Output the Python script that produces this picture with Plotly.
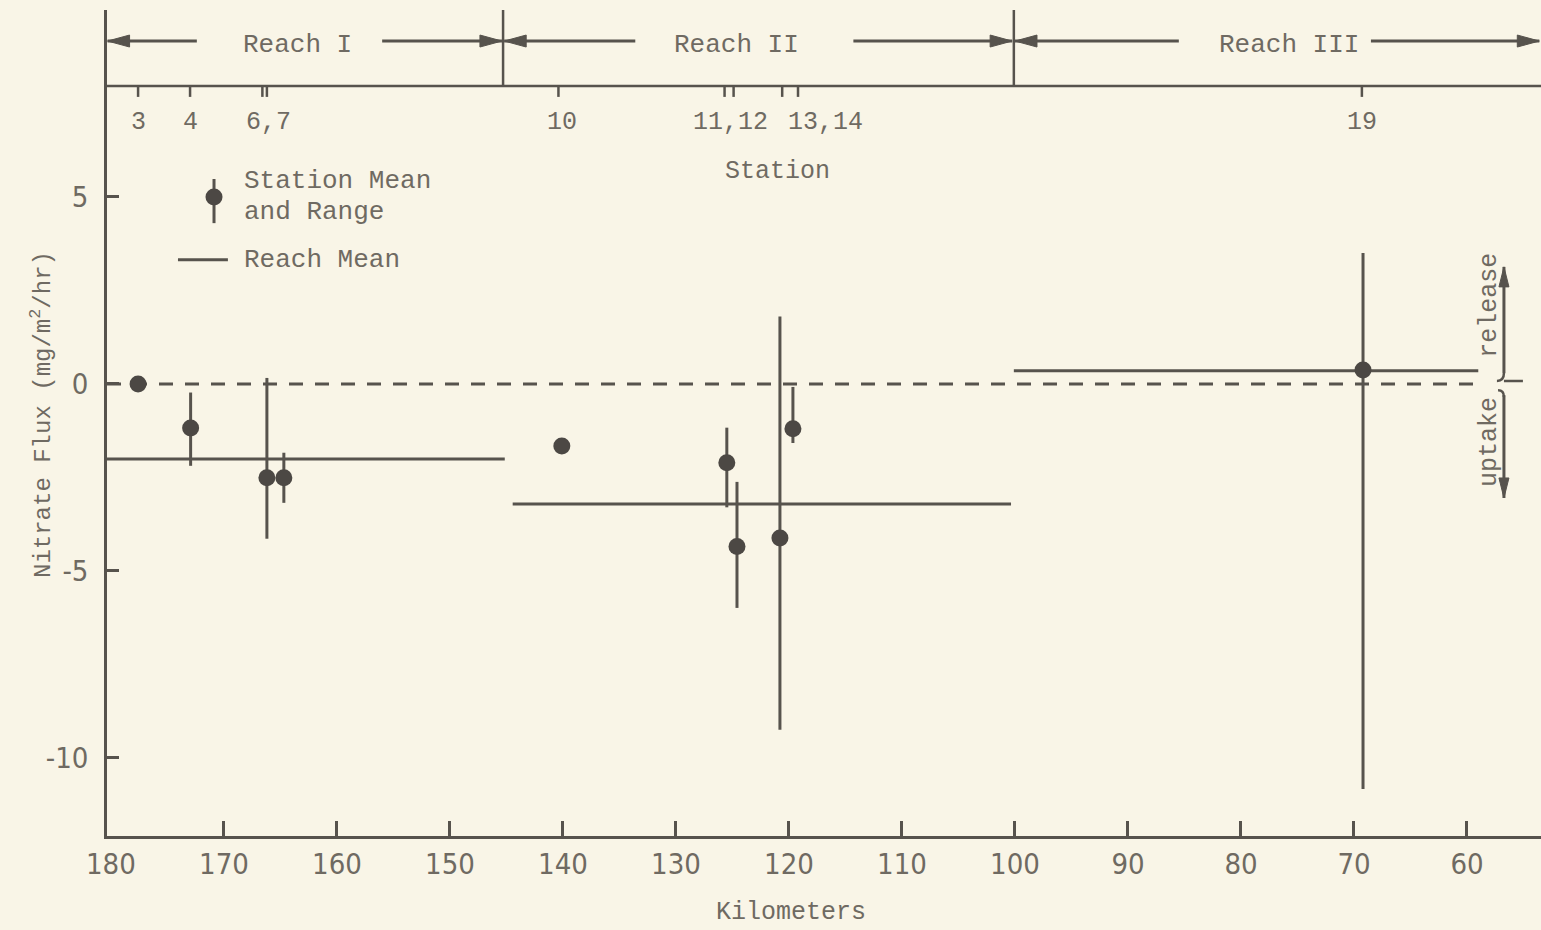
import plotly.graph_objects as go

# ---------------- data ----------------
stations = ["3", "4", "6", "7", "10", "11", "12", "13", "14", "19"]
station_km = [177.6, 172.95, 166.2, 164.7, 140.1, 125.5, 124.6, 120.8, 119.65, 69.2]
flux_mean = [0.0, -1.18, -2.51, -2.51, -1.66, -2.11, -4.35, -4.12, -1.20, 0.37]
flux_max = [0.0, -0.23, 0.16, -1.84, -1.66, -1.17, -2.62, 1.80, -0.08, 3.50]
flux_min = [0.0, -2.19, -4.14, -3.18, -1.66, -3.30, -5.99, -9.25, -1.58, -10.83]

reaches = ["Reach I", "Reach II", "Reach III"]
reach_start_km = [180.35, 144.45, 100.1]
reach_end_km = [145.15, 100.35, 59.0]
reach_mean = [-2.01, -3.21, 0.35]
reach_boundary_km = [145.3, 100.1]
reach_label_km = [163.45, 124.6, 75.75]

tick_station_km = [177.6, 173.0, 166.6, 166.2, 140.4, 125.7, 124.9, 120.6, 119.2, 69.3]
station_label_text = ["3", "4", "6,7", "10", "11,12", "13,14", "19"]
station_label_km = [177.6, 173.0, 166.1, 140.1, 125.2, 116.8, 69.3]

km_ticks = [170, 160, 150, 140, 130, 120, 110, 100, 90, 80, 70, 60]
km_first_label = 180
flux_ticks = [5, 0, -5, -10]
flux_tick_text = ["5", "0", "-5", "-10"]

# ---------------- style ----------------
BG = "#f9f5e7"
INK = "#57534d"
DOT = "#4c4844"
TXT = "#6f6a62"
MONO = "Liberation Mono, Courier New, monospace"
SANS = "Liberation Sans Narrow, DejaVu Sans Condensed, Arial Narrow, sans-serif"

X_RANGE = [180.35, 53.45]
Y_RANGE = [-12.09, 10.0]
KPX = 1 / 11.3   # km per pixel
YPX = 1 / 37.4   # flux units per pixel
TOP_AXIS_Y = 7.97
BAND_TOP = 10.0
ARROW_Y = 9.17

fig = go.Figure()

# dashed zero reference line
fig.add_trace(go.Scatter(
    x=[X_RANGE[0], 59.0], y=[0.0, 0.0], mode="lines",
    line=dict(color=INK, width=3, dash="14px,12px"),
    hoverinfo="skip", showlegend=False))

# reach means
for name, x0, x1, m in zip(reaches, reach_start_km, reach_end_km, reach_mean):
    fig.add_trace(go.Scatter(
        x=[x0, x1], y=[m, m], mode="lines", name=name + " mean",
        line=dict(color=INK, width=3), showlegend=False))

# station means and ranges
err_plus = [mx - mn for mx, mn in zip(flux_max, flux_mean)]
err_minus = [mn - lo for mn, lo in zip(flux_mean, flux_min)]
fig.add_trace(go.Scatter(
    x=station_km, y=flux_mean, mode="markers", text=stations,
    marker=dict(size=17, color=DOT, line=dict(width=0)),
    error_y=dict(type="data", symmetric=False, array=err_plus,
                 arrayminus=err_minus, thickness=3, width=0, color=INK),
    showlegend=False, cliponaxis=False))

# ---------------- manual legend ----------------
fig.add_trace(go.Scatter(
    x=[170.88], y=[5.0], mode="markers",
    marker=dict(size=17, color=DOT),
    error_y=dict(type="data", symmetric=False, array=[0.48], arrayminus=[0.70],
                 thickness=3, width=0, color=INK),
    hoverinfo="skip", showlegend=False))
fig.add_trace(go.Scatter(
    x=[174.07, 169.65], y=[3.32, 3.32], mode="lines",
    line=dict(color=INK, width=3), hoverinfo="skip", showlegend=False))

annotations = []
shapes = []


def text(x, y, s, size=26, xanchor="center", angle=0, xref="x", yref="y",
         font=MONO):
    annotations.append(dict(x=x, y=y, xref=xref, yref=yref, text=s, showarrow=False,
                            xanchor=xanchor, yanchor="middle", textangle=angle,
                            font=dict(family=font, size=size, color=TXT)))


text(168.41, 5.43, "Station Mean", xanchor="left")
text(168.41, 4.60, "and Range", xanchor="left")
text(168.41, 3.32, "Reach Mean", xanchor="left")

# ---------------- top station axis & reach band ----------------
shapes.append(dict(type="line", xref="x", yref="y", x0=X_RANGE[0], x1=X_RANGE[1],
                   y0=TOP_AXIS_Y, y1=TOP_AXIS_Y, line=dict(color=INK, width=2.5)))
for b in reach_boundary_km:
    shapes.append(dict(type="line", xref="x", yref="y", x0=b, x1=b,
                       y0=TOP_AXIS_Y, y1=BAND_TOP, line=dict(color=INK, width=2.5)))
for k in tick_station_km:
    shapes.append(dict(type="line", xref="x", yref="y", x0=k, x1=k,
                       y0=TOP_AXIS_Y, y1=TOP_AXIS_Y - 11 * YPX,
                       line=dict(color=INK, width=2.5)))
for s, k in zip(station_label_text, station_label_km):
    text(k, 6.98, s, size=25)
text(121.0, 5.67, "Station", size=25)

for name, k in zip(reaches, reach_label_km):
    text(k, 9.06, name, size=26)


def h_arrow(tail, tip, y):
    shapes.append(dict(type="line", xref="x", yref="y", x0=tail, x1=tip, y0=y, y1=y,
                       line=dict(color=INK, width=3)))
    d = -1 if tip > tail else 1
    base = tip + d * 22 * KPX
    hw = 6 * YPX
    shapes.append(dict(type="path", xref="x", yref="y",
                       path=f"M {tip},{y} L {base},{y + hw} L {base},{y - hw} Z",
                       fillcolor=INK, line=dict(color=INK, width=1)))


def v_arrow(x, tail, tip):
    shapes.append(dict(type="line", xref="x", yref="y", x0=x, x1=x, y0=tail, y1=tip,
                       line=dict(color=INK, width=3)))
    d = -1 if tip > tail else 1
    base = tip + d * 20 * YPX
    hw = 5 * KPX
    shapes.append(dict(type="path", xref="x", yref="y",
                       path=f"M {x},{tip} L {x + hw},{base} L {x - hw},{base} Z",
                       fillcolor=INK, line=dict(color=INK, width=1)))


# Reach I
h_arrow(172.4, 180.3, ARROW_Y)
h_arrow(156.0, 145.4, ARROW_Y)
# Reach II
h_arrow(133.6, 145.2, ARROW_Y)
h_arrow(114.3, 100.25, ARROW_Y)
# Reach III
h_arrow(85.5, 100.0, ARROW_Y)
h_arrow(68.5, 53.6, ARROW_Y)

# ---------------- release / uptake ----------------
v_arrow(56.73, 0.29, 3.13)
v_arrow(56.73, -0.30, -3.05)
shapes.append(dict(type="path", xref="x", yref="y",
                   path="M 57.35,0.08 Q 56.73,0.08 56.73,0.29 "
                        "M 56.73,0.08 L 55.05,0.08 "
                        "M 57.25,-0.17 Q 56.73,-0.17 56.73,-0.35",
                   line=dict(color=INK, width=2.5)))
text(57.96, 2.09, "release", size=25, angle=-90)
text(57.96, -1.55, "uptake", size=25, angle=-90)

# ---------------- axis titles / first km label ----------------
text(km_first_label, -0.0339, str(km_first_label), size=29, yref="paper", font=SANS)
text(119.8, -0.0932, "Kilometers", size=25, yref="paper")
text(-0.0453, -0.83, "Nitrate Flux (mg/m<sup>2</sup>/hr)", size=24, angle=-90,
     xref="paper")

fig.update_layout(
    width=1541, height=930,
    margin=dict(l=107, r=0, t=10, b=94),
    paper_bgcolor=BG, plot_bgcolor=BG,
    showlegend=False,
    shapes=shapes, annotations=annotations,
    xaxis=dict(range=X_RANGE, tickmode="array", tickvals=km_ticks,
               ticktext=[str(v) for v in km_ticks],
               ticks="inside", ticklen=15, tickwidth=2.5, tickcolor=INK,
               showline=True, linecolor=INK, linewidth=2.5,
               showgrid=False, zeroline=False, ticklabelstandoff=0,
               tickfont=dict(family=SANS, size=29, color=TXT)),
    yaxis=dict(range=Y_RANGE, tickmode="array", tickvals=flux_ticks,
               ticktext=flux_tick_text,
               ticks="inside", ticklen=12, tickwidth=2.5, tickcolor=INK,
               showline=True, linecolor=INK, linewidth=2.5,
               showgrid=False, zeroline=False, ticklabelstandoff=10,
               tickfont=dict(family=SANS, size=29, color=TXT)),
)

fig.write_html("out.html")
